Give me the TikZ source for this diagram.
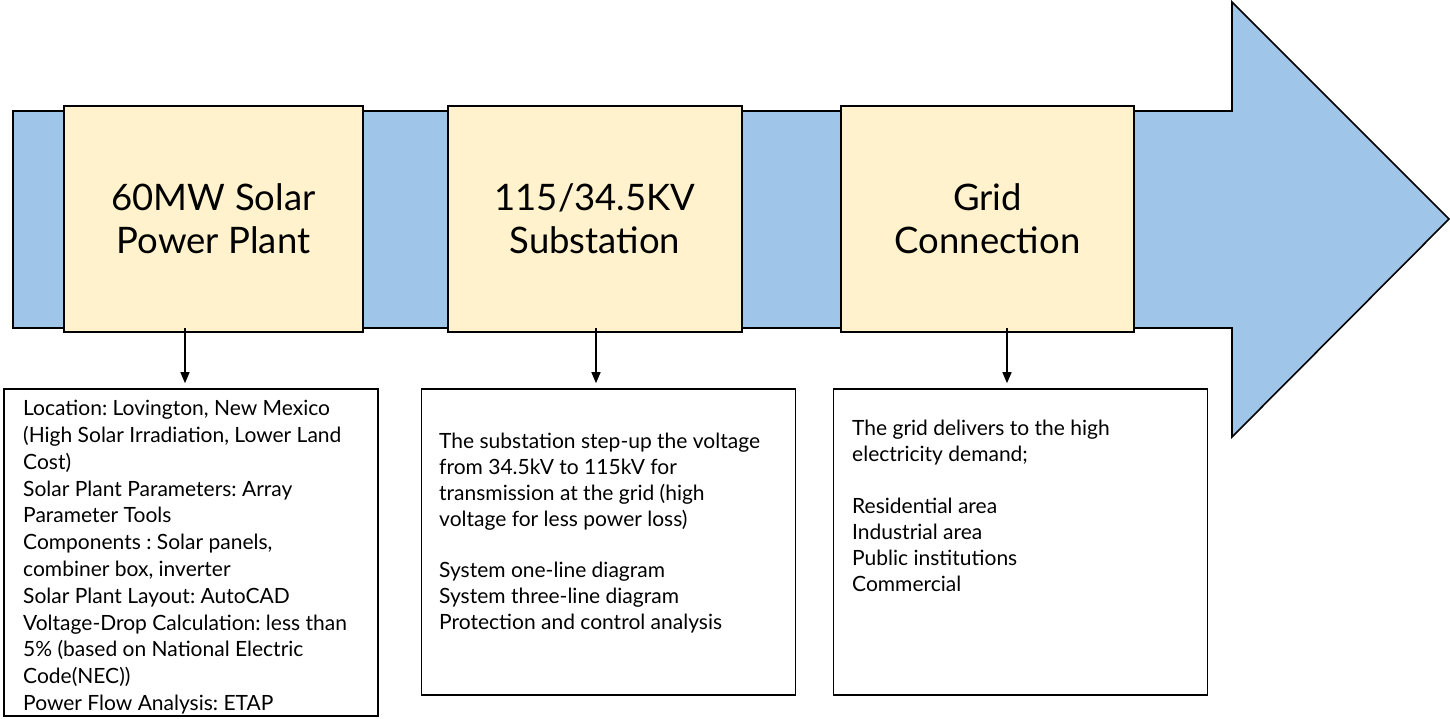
\documentclass[tikz,border=0pt]{standalone}
\usepackage{fontspec}
\setmainfont{Lato}
\usetikzlibrary{arrows.meta}
\definecolor{arrowblue}{HTML}{9FC5E8}
\definecolor{boxyellow}{HTML}{FFF2CC}
\frenchspacing
\begin{document}
\begin{tikzpicture}[x=1pt,y=1pt,
  bigarrow/.style={draw=black, line width=1.6pt, fill=arrowblue, line join=miter},
  stage/.style={draw=black, line width=1.6pt, fill=boxyellow, inner sep=0pt,
    minimum height=226pt, align=center, font=\fontsize{36.5}{43}\selectfont},
  infobox/.style={draw=black, line width=1.6pt, fill=white, inner sep=0pt, minimum width=374pt},
  infotext/.style={anchor=north west, inner sep=0pt, align=left},
  conn/.style={draw=black, line width=1.4pt, -{Triangle[length=11pt,width=9pt]}, shorten >=5pt}
]
\useasboundingbox (0,0) rectangle (1450,719);
% big arrow
\draw[bigarrow] (13,608) -- (1232,608) -- (1232,717) -- (1449,500) -- (1232,282) -- (1232,391) -- (13,391) -- cycle;
% stages
\node[stage, minimum width=299pt] (s1) at (213.5,500) {60MW Solar\\Power Plant};
\node[stage, minimum width=294pt] (s2) at (595,500) {115/34.5KV\\Substation};
\node[stage, minimum width=293pt] (s3) at (987.5,500) {Grid\\Connection};
% info boxes
\node[infobox, minimum height=327pt] (bA) at (191,166.5) {};
\node[infobox, minimum height=306pt] (bB) at (608.5,177) {};
\node[infobox, minimum height=306pt] (bC) at (1020.5,177) {};
% texts
\node[infotext, font=\fontsize{21}{26.8}\selectfont] (tA) at (23,322.3) {\strut Location: Lovington, New Mexico\\
(High Solar Irradiation, Lower Land\\
Cost)\\
Solar Plant Parameters: Array\\
Parameter Tools\\
Components : Solar panels,\\
combiner box, inverter\\
Solar Plant Layout: AutoCAD\\
Voltage-Drop Calculation: less than\\
5\% (based on National Electric\\
Code(NEC))\\
Power Flow Analysis: ETAP};
\node[infotext, font=\fontsize{21}{25.8}\selectfont] (tB) at (439,288.5) {\strut The substation step-up the voltage\\
from 34.5kV to 115kV for\\
transmission at the grid (high\\
voltage for less power loss)\\[25.8pt]
System one-line diagram\\
System three-line diagram\\
Protection and control analysis};
\node[infotext, font=\fontsize{21}{26}\selectfont] (tC) at (852,302.2) {\strut The grid delivers to the high\\
electricity demand;\\[26pt]
Residential area\\
Industrial area\\
Public institutions\\
Commercial};
% connectors
\coordinate (c1) at (185,391);
\coordinate (c2) at (596,391);
\coordinate (c3) at (1007,391);
\draw[conn] (c1) -- (c1 |- bA.north);
\draw[conn] (c2) -- (c2 |- bB.north);
\draw[conn] (c3) -- (c3 |- bC.north);
\end{tikzpicture}
\end{document}
